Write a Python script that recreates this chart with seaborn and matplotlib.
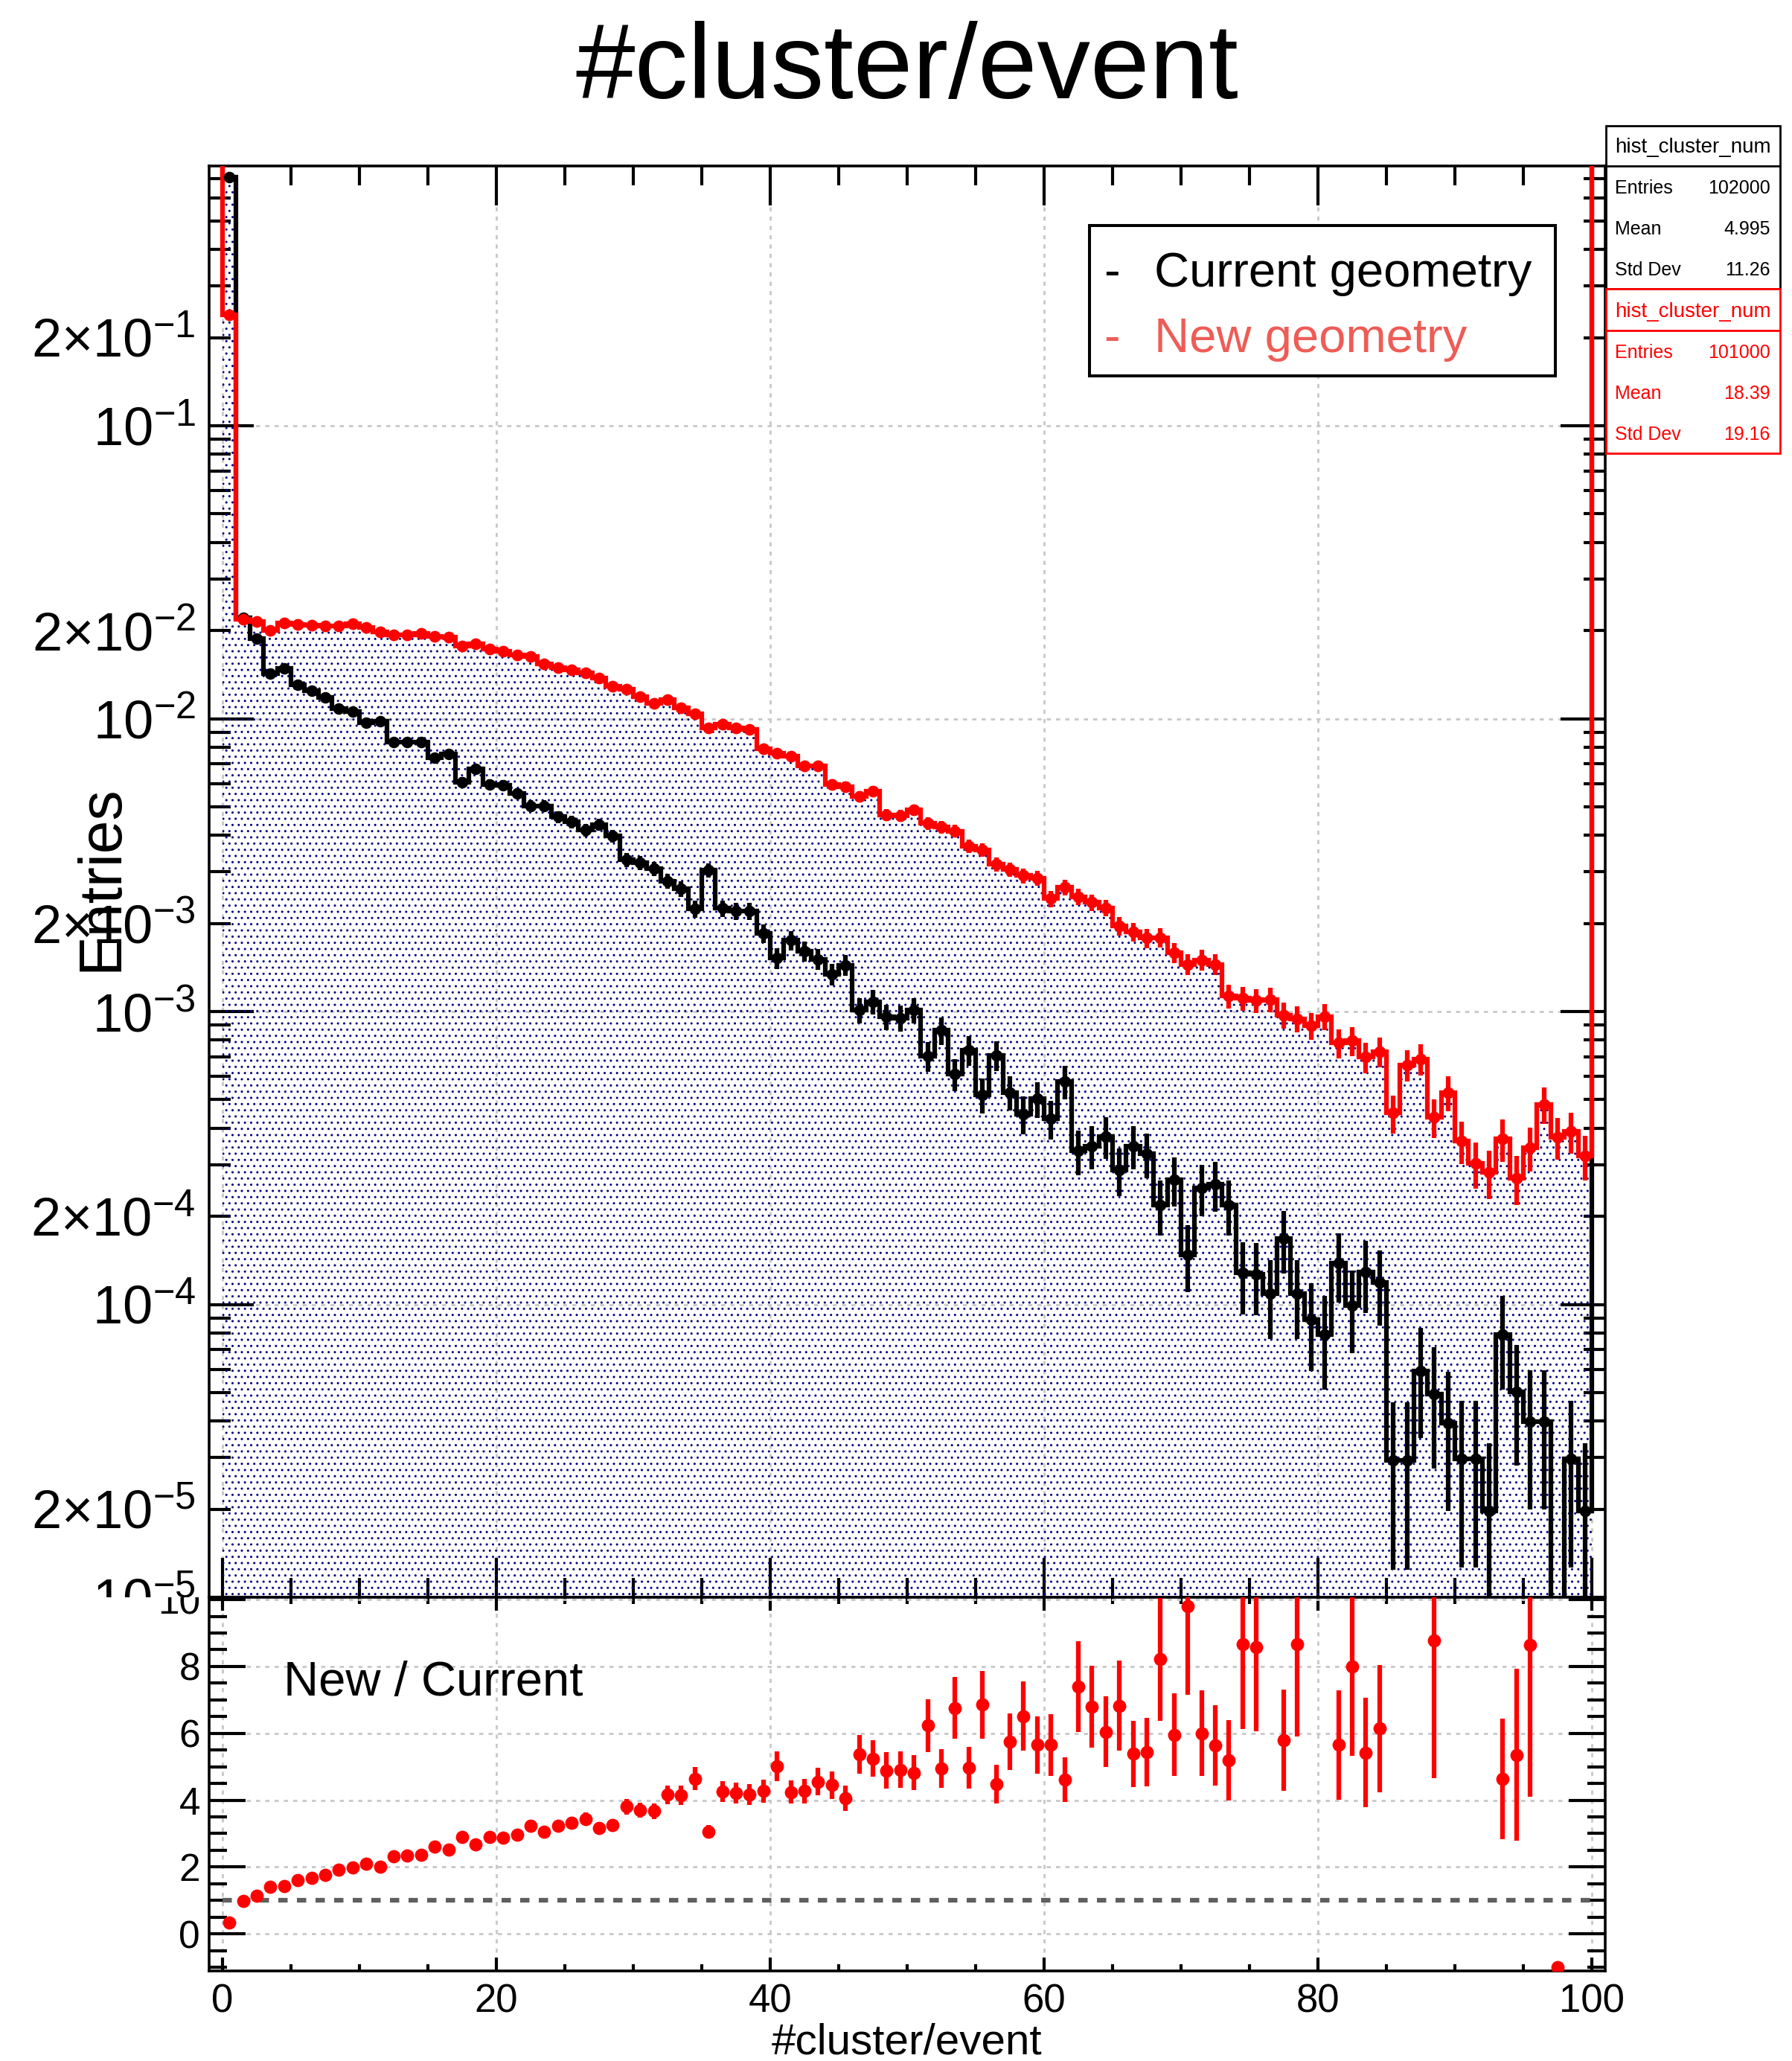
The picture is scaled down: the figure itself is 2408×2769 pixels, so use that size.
import numpy as np
import pandas as pd
import matplotlib
matplotlib.use("Agg")
import matplotlib.pyplot as plt
import seaborn as sns
from matplotlib.patches import Rectangle
from matplotlib.lines import Line2D
from matplotlib.transforms import Bbox, TransformedBbox
from matplotlib.ticker import MultipleLocator, LogLocator, FuncFormatter, NullFormatter

# ---------------------------------------------------------------- data
bin_edges = np.arange(0, 101, 1)

# normalised #cluster/event distributions, one value per unit-wide bin
current = np.array([
    0.706, 0.0221, 0.01872, 0.01425, 0.01481, 0.01304, 0.01243, 0.01184, 0.01084, 0.01057,
    0.00970, 0.00978, 0.00830, 0.00830, 0.00830, 0.00734, 0.00756, 0.00608, 0.00673, 0.00596,
    0.00592, 0.00555, 0.00504, 0.00504, 0.00462, 0.00444, 0.00417, 0.00435, 0.00397, 0.00330,
    0.00322, 0.00307, 0.00279, 0.00263, 0.00224, 0.00304, 0.00225, 0.00220, 0.00220, 0.00185,
    0.00152, 0.00175, 0.00161, 0.00151, 0.00134, 0.00144, 0.00101, 0.00108, 0.000960, 0.000950,
    0.001010, 0.000704, 0.000862, 0.000611, 0.000738, 0.000519, 0.000710, 0.000530, 0.000447, 0.000504,
    0.000430, 0.000576, 0.000334, 0.000347, 0.000374, 0.000287, 0.000347, 0.000327, 0.000218, 0.000267,
    0.000148, 0.000250, 0.000257, 0.000218, 0.000128, 0.000127, 0.000109, 0.000168, 0.000109, 0.0000888,
    0.0000791, 0.000138, 0.0000994, 0.000129, 0.000119, 0.0000294, 0.0000294, 0.0000591, 0.0000495, 0.0000394,
    0.0000297, 0.0000297, 0.0000197, 0.0000791, 0.0000504, 0.0000397, 0.0000397, 0.0, 0.0000297, 0.0000197,
])
new = np.array([
    0.239, 0.02188, 0.02146, 0.02004, 0.02125, 0.02092, 0.02084, 0.02076, 0.02072, 0.02104,
    0.02043, 0.01972, 0.01928, 0.01935, 0.01958, 0.01909, 0.01898, 0.01766, 0.01800, 0.01731,
    0.01698, 0.01649, 0.01633, 0.01540, 0.01490, 0.01471, 0.01432, 0.01376, 0.01290, 0.01257,
    0.01192, 0.01128, 0.01161, 0.01091, 0.01040, 0.00927, 0.00959, 0.00927, 0.00917, 0.00790,
    0.00763, 0.00743, 0.00688, 0.00688, 0.00596, 0.00585, 0.00542, 0.00566, 0.00469, 0.00466,
    0.00487, 0.00439, 0.00426, 0.00413, 0.00367, 0.00356, 0.00318, 0.00305, 0.00291, 0.00285,
    0.00243, 0.00266, 0.00247, 0.00236, 0.00226, 0.00196, 0.00187, 0.00178, 0.00179, 0.00159,
    0.00145, 0.00150, 0.00145, 0.00113, 0.00111, 0.00109, 0.00110, 0.000973, 0.000944, 0.000897,
    0.000960, 0.000781, 0.000794, 0.000700, 0.000731, 0.000450, 0.000658, 0.000689, 0.000435, 0.000528,
    0.000361, 0.000303, 0.000282, 0.000367, 0.000270, 0.000343, 0.000482, 0.000373, 0.000390, 0.000321,
])

n_current = 102000
n_new = 101000
stats_rows = ["Entries", "Mean", "Std Dev"]
stats_current = ["102000", "4.995", "11.26"]
stats_new = ["101000", "18.39", "19.16"]
hist_name = "hist_cluster_num"
legend_labels = ["Current geometry", "New geometry"]

# ---------------------------------------------------------------- style
sns.set_theme(style="ticks")
plt.rcParams["font.family"] = ["Liberation Sans", "DejaVu Sans"]
plt.rcParams["mathtext.fontset"] = "custom"
plt.rcParams["mathtext.rm"] = "Liberation Sans"
plt.rcParams["mathtext.it"] = "Liberation Sans:italic"
plt.rcParams["mathtext.bf"] = "Liberation Sans:bold"
plt.rcParams["hatch.linewidth"] = 1.0
plt.rcParams["hatch.color"] = "#000080"
plt.rcParams["axes.linewidth"] = 2.6
for key in ["text.color", "axes.labelcolor", "xtick.color", "ytick.color",
            "xtick.labelcolor", "ytick.labelcolor", "axes.edgecolor"]:
    plt.rcParams[key] = "black"

W, H, DPI = 2408, 2769, 100
fig = plt.figure(figsize=(W / DPI, H / DPI), dpi=DPI, facecolor="white")


def fx(x):
    return x / W


def fy(y):
    return 1 - y / H


LEFT, RIGHT, TOP, SPLIT, BOTTOM = 281, 2157, 223, 2146, 2648
ax = fig.add_axes([fx(LEFT), fy(SPLIT), fx(RIGHT) - fx(LEFT), fy(TOP) - fy(SPLIT)])
rx = fig.add_axes([fx(LEFT), fy(BOTTOM), fx(RIGHT) - fx(LEFT), fy(SPLIT) - fy(BOTTOM)])

centers = bin_edges[:-1] + 0.5
x_range = (-0.98, 100.98)
y_bottom, y_top = 1e-5, 0.771
ratio_range = (-1.11, 10.07)
floor = 1e-12
LW = 4.5
RED = "#ff0000"
SALMON = "#ee5c56"
GRID = dict(color="#c8c8c8", linestyle=(0, (2, 2.5)), linewidth=2.0)

# ---------------------------------------------------------------- main pad
ax.set_yscale("log")
ax.set_xlim(*x_range)
ax.set_ylim(y_bottom, y_top)
ax.grid(True, which="major", **GRID)
ax.set_axisbelow(True)

envelope = np.maximum(current, new)
ax.stairs(envelope, bin_edges, baseline=y_bottom, fill=True, facecolor="none",
          edgecolor="#000080", hatch="..", linewidth=0, zorder=1)

cur_draw = np.where(current > 0, current, floor)
ax.stairs(cur_draw, bin_edges, baseline=10.0, edgecolor="black", linewidth=LW, zorder=2)
ax.stairs(new, bin_edges, baseline=10.0, edgecolor=RED, linewidth=LW, zorder=3)

cur_err = np.sqrt(current / n_current)
new_err = np.sqrt(new / n_new)
filled = current > 0
ax.vlines(centers[filled], np.maximum(current[filled] - cur_err[filled], floor),
          current[filled] + cur_err[filled], color="black", linewidth=LW, zorder=3.5)
ax.vlines(centers, np.maximum(new - new_err, floor), new + new_err,
          color=RED, linewidth=LW, zorder=4.5)

main_df = pd.DataFrame({"x": centers, "current": current, "new": new})
sns.scatterplot(data=main_df[filled], x="x", y="current", color="black", s=125,
                linewidth=0, ax=ax, zorder=3.6, legend=False)
sns.scatterplot(data=main_df, x="x", y="new", color=RED, s=130,
                linewidth=0, ax=ax, zorder=4.6, legend=False)


def log_label(v, pos):
    e = int(np.floor(np.log10(v) + 1e-9))
    m = int(round(v / 10.0 ** e))
    if m == 1:
        return r"$10^{%d}$" % e
    if m == 2:
        return r"$2{\times}10^{%d}$" % e
    return ""


ax.xaxis.set_major_locator(MultipleLocator(20))
ax.xaxis.set_minor_locator(MultipleLocator(5))
ax.xaxis.set_major_formatter(NullFormatter())
ax.xaxis.set_minor_formatter(NullFormatter())
ax.yaxis.set_major_locator(LogLocator(base=10, numticks=50))
ax.yaxis.set_minor_locator(LogLocator(base=10, subs=np.arange(2, 10), numticks=50))
ax.yaxis.set_major_formatter(FuncFormatter(log_label))
ax.yaxis.set_minor_formatter(FuncFormatter(log_label))
ax.tick_params(axis="both", which="both", direction="in", top=True, right=True,
               width=3, color="black", labelcolor="black")
ax.tick_params(axis="x", which="major", length=38)
ax.tick_params(axis="x", which="minor", length=19)
ax.tick_params(axis="y", which="major", length=43, labelsize=52, pad=13)
ax.tick_params(axis="y", which="minor", length=21, labelsize=52, pad=13)
ax.set_xlabel("")
ax.set_ylabel("")
for s in ax.spines.values():
    s.set_linewidth(2.6)
    s.set_color("black")

# ---------------------------------------------------------------- ratio pad
rx.set_xlim(*x_range)
rx.set_ylim(*ratio_range)
rx.grid(True, which="major", **GRID)
rx.set_axisbelow(True)

safe_cur = np.where(current > 0, current, 1.0)
ratio = np.where(current > 0, new / safe_cur, -1.0)
rel = np.where(current > 0,
               np.sqrt(1.0 / (safe_cur * n_current) + 1.0 / (new * n_new)), 0.0)
ratio_err = np.abs(ratio) * rel
shown = ratio <= ratio_range[1]

rx.plot([bin_edges[0], bin_edges[-1]], [1, 1], color="#5f5f5f", linewidth=LW,
        linestyle=(0, (2, 2)), zorder=2)
rx.vlines(centers[shown], ratio[shown] - ratio_err[shown], ratio[shown] + ratio_err[shown],
          color=RED, linewidth=LW, zorder=3)
ratio_df = pd.DataFrame({"x": centers[shown], "ratio": ratio[shown]})
sns.scatterplot(data=ratio_df, x="x", y="ratio", color=RED, s=165, linewidth=0,
                ax=rx, zorder=4, legend=False)

rx.xaxis.set_major_locator(MultipleLocator(20))
rx.xaxis.set_minor_locator(MultipleLocator(5))
rx.yaxis.set_major_locator(MultipleLocator(2))
rx.yaxis.set_minor_locator(MultipleLocator(0.5))
rx.xaxis.set_major_formatter(FuncFormatter(lambda v, p: "%d" % round(v)))
rx.yaxis.set_major_formatter(FuncFormatter(lambda v, p: "%d" % round(v)))
rx.tick_params(axis="both", which="both", direction="in", top=True, right=True,
               width=3, color="black", labelcolor="black")
rx.tick_params(axis="x", which="major", length=13, labelsize=38, pad=12)
rx.tick_params(axis="x", which="minor", length=6.5)
rx.tick_params(axis="y", which="major", length=35, labelsize=37, pad=8.6)
rx.tick_params(axis="y", which="minor", length=17)
rx.set_xlabel("")
rx.set_ylabel("")
for s in rx.spines.values():
    s.set_linewidth(2.6)
    s.set_color("black")

# ---------------------------------------------------------------- texts
fig.text(fx(1219), fy(132), "#cluster/event", ha="center", va="baseline", fontsize=103,
         color="black")
fig.text(fx(136), fy(1180), "Entries", ha="center", va="center", rotation=90, fontsize=58,
         color="black")
fig.text(fx(1219), fy(2759), "#cluster/event", ha="center", va="baseline", fontsize=42,
         color="black")
fig.text(fx(381), fy(2278), "New / Current", ha="left", va="baseline", fontsize=47,
         color="black")

# legend box
fig.patches.append(Rectangle((fx(1464), fy(505)), fx(2090) - fx(1464), fy(303) - fy(505),
                             transform=fig.transFigure, facecolor="white",
                             edgecolor="black", linewidth=2.9, zorder=5))
for label, colour, base in zip(legend_labels, ["black", SALMON], [385, 473]):
    fig.text(fx(1483), fy(base), "-", ha="left", va="baseline", fontsize=47,
             color=colour, zorder=6)
    fig.text(fx(1551), fy(base), label, ha="left", va="baseline", fontsize=47,
             color=colour, zorder=6)

# statistics boxes
for values, colour, top, head, bottom in [(stats_current, "black", 169, 223, 388),
                                          (stats_new, RED, 388, 444, 609)]:
    fig.patches.append(Rectangle((fx(2158), fy(bottom)), fx(2392) - fx(2158),
                                 fy(top) - fy(bottom), transform=fig.transFigure,
                                 facecolor="white", edgecolor=colour, linewidth=2.0,
                                 zorder=5))
    fig.lines.append(Line2D([fx(2158), fx(2392)], [fy(head), fy(head)],
                            transform=fig.transFigure, color=colour, linewidth=2.0,
                            zorder=6))
    fig.text(fx(2275), fy(head - 18), hist_name, ha="center", va="baseline",
             fontsize=20, color=colour, zorder=7)
    for k, (name, val) in enumerate(zip(stats_rows, values)):
        base = head + 37 + 55 * k
        fig.text(fx(2170), fy(base), name, ha="left", va="baseline", fontsize=18,
                 color=colour, zorder=7)
        fig.text(fx(2379), fy(base), val, ha="right", va="baseline", fontsize=18,
                 color=colour, zorder=7)

# each pad clips its own axis labels at the pad boundary
fig.canvas.draw()
main_clip = TransformedBbox(Bbox([[0, fy(SPLIT)], [1, 1]]), fig.transFigure)
ratio_clip = TransformedBbox(Bbox([[0, 0], [1, fy(SPLIT)]]), fig.transFigure)
for t in ax.yaxis.get_ticklabels(which="both"):
    t.set_clip_box(main_clip)
    t.set_clip_on(True)
for t in rx.yaxis.get_ticklabels(which="both"):
    t.set_clip_box(ratio_clip)
    t.set_clip_on(True)

fig.savefig("out.png", dpi=DPI, facecolor="white")
